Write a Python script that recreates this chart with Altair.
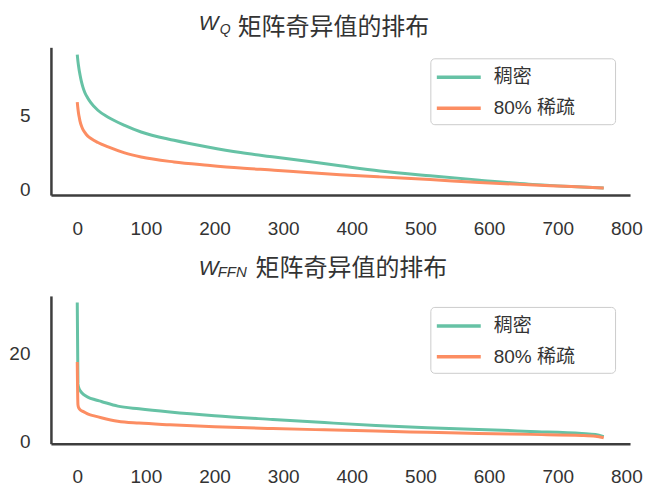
import altair as alt
import pandas as pd

# ---------------- data ----------------
series_names = ["稠密", "80% 稀疏"]
series_colors = ["#66c2a5", "#fc8d62"]

x_ticks = [0, 100, 200, 300, 400, 500, 600, 700, 800]

# W_Q singular values (index of singular value -> value)
q_idx = [0, 1, 2, 3, 4, 6, 8, 11, 15, 20, 30, 45, 69, 93, 141, 190, 238, 287,
         335, 383, 441, 514, 586, 658, 720, 767]
q_dense = [9.1, 8.65, 8.3, 8.0, 7.75, 7.3, 6.95, 6.55, 6.2, 5.85, 5.35, 4.88,
           4.33, 3.88, 3.32, 2.87, 2.49, 2.19, 1.9, 1.6, 1.25, 0.92, 0.63,
           0.36, 0.2, 0.1]
q_sparse = [5.9, 5.45, 5.1, 4.85, 4.62, 4.3, 4.08, 3.85, 3.62, 3.44, 3.17, 2.87,
            2.47, 2.19, 1.86, 1.64, 1.45, 1.30, 1.14, 1.0, 0.85, 0.67, 0.47,
            0.31, 0.2, 0.1]
q_y_ticks = [0, 5]

# W_FFN singular values
ffn_idx = [0, 1, 2, 5, 9, 16, 26, 35, 59, 90, 135, 200, 285, 360, 435, 510,
           585, 660, 735, 755, 767]
ffn_dense = [31.5, 13.0, 12.2, 11.3, 10.6, 9.95, 9.4, 9.0, 7.95, 7.33, 6.6,
             5.75, 4.9, 4.2, 3.55, 3.05, 2.65, 2.2, 1.74, 1.5, 1.0]
ffn_sparse = [18.0, 8.3, 7.6, 7.0, 6.7, 6.1, 5.66, 5.3, 4.5, 4.08, 3.7, 3.25,
              2.85, 2.55, 2.26, 2.0, 1.74, 1.52, 1.29, 1.1, 0.75]
ffn_y_ticks = [0, 20]

title_main = "矩阵奇异值的排布"

# ---------------- styling ----------------
FONT = "Liberation Sans, Noto Sans CJK SC, sans-serif"
CJK_FONT = "Noto Sans CJK SC, sans-serif"
TXT = "#333333"
AXIS = "#3d3d3d"
X_DOMAIN = [-38.35, 805.35]


def panel(idx, dense, sparse, yticks, ydomain, sub, t):
    df = pd.DataFrame({
        "idx": list(idx) + list(idx),
        "val": list(dense) + list(sparse),
        "series": [series_names[0]] * len(idx) + [series_names[1]] * len(idx),
    })
    lines = alt.Chart(df).mark_line(strokeWidth=3, interpolate="monotone").encode(
        x=alt.X("idx:Q", title=None,
                scale=alt.Scale(domain=X_DOMAIN, nice=False, zero=False),
                axis=alt.Axis(values=x_ticks, grid=False, ticks=False, tickSize=0,
                              domainColor=AXIS, domainWidth=2.5,
                              labelFont=FONT, labelFontSize=19, labelColor=TXT,
                              labelPadding=24, labelFlush=False)),
        y=alt.Y("val:Q", title=None,
                scale=alt.Scale(domain=ydomain, nice=False, zero=False),
                axis=alt.Axis(values=yticks, grid=False, ticks=False, tickSize=0,
                              domainColor=AXIS, domainWidth=2.5,
                              labelFont=FONT, labelFontSize=19, labelColor=TXT,
                              labelPadding=21)),
        color=alt.Color("series:N",
                        scale=alt.Scale(domain=series_names, range=series_colors),
                        legend=alt.Legend(
                            title=None, orient="none", legendX=380, legendY=11,
                            symbolType="M-2,0L2,0", symbolSize=484,
                            symbolStrokeWidth=3.5, symbolOffset=9.5,
                            labelFont=FONT, labelFontSize=19, labelColor=TXT,
                            labelOffset=22, rowPadding=8, padding=6,
                            strokeColor="#cccccc", fillColor="white",
                            cornerRadius=4,
                            labelExpr="datum.label + '\u2003\u2002\u2005\u200b'")),
    )
    tdf = pd.DataFrame({"w": ["W"], "s": [sub], "m": [title_main]})
    tb = alt.Chart(tdf)
    w_txt = tb.mark_text(align="left", baseline="alphabetic", font=FONT,
                         fontStyle="italic", fontSize=21, color=TXT).encode(
        text="w:N", x=alt.value(148), y=alt.value(t["w"]))
    s_txt = tb.mark_text(align="left", baseline="alphabetic", font=FONT,
                         fontStyle="italic", fontSize=t["ss"], color=TXT).encode(
        text="s:N", x=alt.value(t["sx"]), y=alt.value(t["s"]))
    m_txt = tb.mark_text(align="left", baseline="alphabetic", font=CJK_FONT,
                         fontSize=24, color=TXT).encode(
        text="m:N", x=alt.value(t["mx"]), y=alt.value(t["m"]))
    return alt.layer(lines, w_txt, s_txt, m_txt).properties(width=580, height=148)


top = panel(q_idx, q_dense, q_sparse, q_y_ticks, [-0.38, 9.6], "Q",
            {"w": -17, "sx": 169, "s": -13, "ss": 14, "mx": 187, "m": -12})
bottom = panel(ffn_idx, ffn_dense, ffn_sparse, ffn_y_ticks, [-0.6, 33.0], "FFN",
               {"w": -21, "sx": 167, "s": -19.3, "ss": 15, "mx": 205, "m": -20})

chart = alt.vconcat(top, bottom, spacing=101, bounds="flush").resolve_scale(
    color="independent").resolve_legend(color="independent").properties(
    padding={"left": 0, "top": 5, "right": 5, "bottom": 5},
    background="white",
).configure_view(stroke=None)

chart.save("out.html", embed_options={"renderer": "svg", "actions": False})
